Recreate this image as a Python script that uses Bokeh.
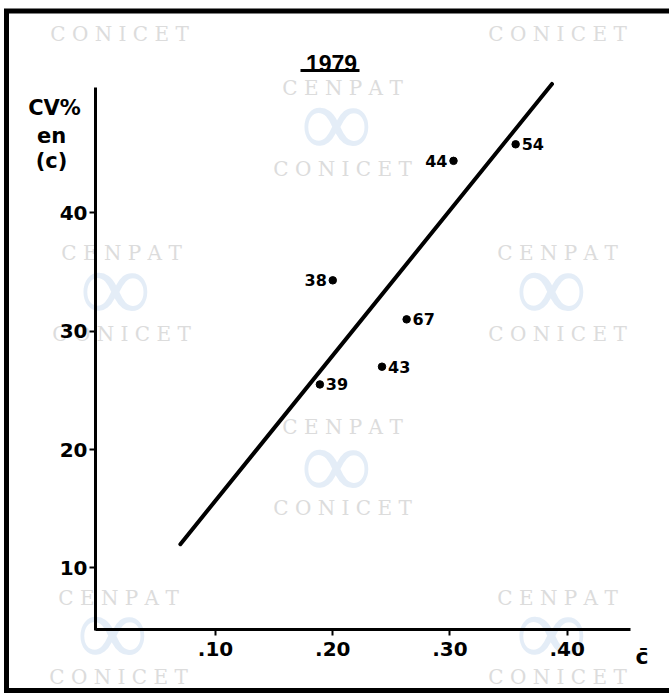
from bokeh.plotting import figure
from bokeh.models import ColumnDataSource, FixedTicker, Range1d
from bokeh.core.properties import value
from bokeh.embed import file_html
from bokeh.resources import INLINE

# ---------------- data ----------------
title_text = "1979"
point_labels = ["38", "67", "43", "39", "44", "54"]
c_mean = [0.200, 0.263, 0.242, 0.189, 0.303, 0.356]
cv_pct = [34.3, 31.0, 27.0, 25.5, 44.4, 45.8]
label_side = ["left", "right", "right", "right", "left", "right"]
fit_x = [0.070, 0.387]
fit_y = [12.0, 50.9]
x_ticks = [0.10, 0.20, 0.30, 0.40]
x_tick_labels = [".10", ".20", ".30", ".40"]
y_ticks = [10, 20, 30, 40]
y_tick_labels = ["10", "20", "30", "40"]
y_label_lines = ["CV%", "en", "(c)"]
x_label = "c\u0304"
watermark_words = ["CONICET", "CONICET",
                   "CENPAT", "CONICET",
                   "CENPAT", "CONICET", "CENPAT", "CONICET",
                   "CENPAT", "CONICET",
                   "CENPAT", "CONICET", "CENPAT", "CONICET"]

# ---------------- layout (page pixels -> data) ----------------
X0, XS = 97.8, 1172.3      # page x of c=0, px per unit c
Y0, YS = 685.6, 11.83      # page y of CV=0, px per unit CV
def dx(px): return (px - X0) / XS
def dy(py): return (Y0 - py) / YS

W, H = 669, 693

p = figure(width=W, height=H, output_backend="svg", toolbar_location=None,
           x_range=Range1d(dx(0), dx(W)),
           y_range=Range1d(dy(H), dy(0)),
           min_border=0)
p.grid.visible = False
p.background_fill_color = "white"
p.border_fill_color = "white"
p.outline_line_color = None

# ---------------- watermark ----------------
wm_pos = [(119, 33.5), (557, 33.5),
          (342, 87.5), (342, 168),
          (121, 252.5), (121, 333.5), (557, 252.5), (557, 333.5),
          (342, 426.5), (342, 507.5),
          (118, 597.5), (118, 676.5), (557, 597.5), (557, 676.5)]
p.text(x=[dx(a) for a, b in wm_pos], y=[dy(b) for a, b in wm_pos],
       text=[" ".join(w) for w in watermark_words],
       text_font=value("DejaVu Serif"), text_font_size="20px",
       text_color="#dcdcdc", text_align="center", text_baseline="middle",
       level="underlay")
logo_pos = [(342, 125), (121, 290), (557, 290), (342, 467), (118, 634), (557, 634)]
p.text(x=[dx(a) for a, b in logo_pos], y=[dy(b) + 0.3 for a, b in logo_pos],
       text=["\u221e"] * len(logo_pos),
       text_font=value("DejaVu Sans"), text_font_size="100px",
       text_color="#e4edf7", text_align="center", text_baseline="middle",
       level="underlay")

# ---------------- scanned frame (left, top, bottom sides) ----------------
p.line([dx(W + 5), dx(6), dx(6), dx(W + 5)],
       [dy(10.5), dy(10.5), dy(690), dy(690)],
       line_width=5, line_color="black", line_join="miter")

# ---------------- axes ----------------
for ax in p.axis:
    ax.axis_line_width = 3
    ax.axis_line_color = "black"
    ax.major_tick_line_width = 2
    ax.major_tick_line_color = "black"
    ax.major_tick_in = 0
    ax.major_tick_out = 6
    ax.minor_tick_line_color = None
    ax.major_label_text_font = "DejaVu Sans"
    ax.major_label_text_font_style = "bold"
    ax.major_label_text_font_size = "20px"
    ax.major_label_text_color = "black"

p.xaxis.fixed_location = dy(629)
p.xaxis.bounds = (dx(94.5), dx(630))
p.xaxis.ticker = FixedTicker(ticks=x_ticks)
p.xaxis.major_label_overrides = dict(zip(x_ticks, x_tick_labels))
p.xaxis.major_label_standoff = 6

p.yaxis.fixed_location = dx(95)
p.yaxis.bounds = (dy(630), dy(87))
p.yaxis.ticker = FixedTicker(ticks=y_ticks)
p.yaxis.major_label_overrides = dict(zip(y_ticks, y_tick_labels))
p.yaxis.major_label_standoff = 2

# ---------------- marks ----------------
p.line(fit_x, fit_y, line_width=4, line_color="black", line_cap="round")
p.scatter(c_mean, cv_pct, size=7.5, color="black")

right_src = ColumnDataSource(dict(
    x=[c for c, s in zip(c_mean, label_side) if s == "right"],
    y=[v for v, s in zip(cv_pct, label_side) if s == "right"],
    t=[l for l, s in zip(point_labels, label_side) if s == "right"]))
left_src = ColumnDataSource(dict(
    x=[c for c, s in zip(c_mean, label_side) if s == "left"],
    y=[v for v, s in zip(cv_pct, label_side) if s == "left"],
    t=[l for l, s in zip(point_labels, label_side) if s == "left"]))
lab_kw = dict(text="t", text_font=value("DejaVu Sans"), text_font_style="bold",
              text_font_size="16px", text_color="black", text_baseline="middle")
p.text(x="x", y="y", source=right_src, x_offset=6, text_align="left", **lab_kw)
p.text(x="x", y="y", source=left_src, x_offset=-6, text_align="right", **lab_kw)

# ---------------- titles / axis labels ----------------
p.text(x=[dx(331)], y=[dy(63.3)], text=[title_text],
       text_font=value("Liberation Sans"), text_font_style="bold",
       text_font_size="23px", text_color="black",
       text_align="center", text_baseline="alphabetic")
p.line([dx(300), dx(359)], [dy(70), dy(70)], line_width=3, line_color="black")

p.text(x=[dx(54), dx(51), dx(51)], y=[dy(107), dy(135), dy(160)],
       text=y_label_lines,
       text_font=value("DejaVu Sans"), text_font_style="bold",
       text_font_size="21px", text_color="black",
       text_align="center", text_baseline="alphabetic")

p.text(x=[dx(641.5)], y=[dy(656)], text=[x_label],
       text_font=value("DejaVu Sans"), text_font_style="bold",
       text_font_size="22px", text_color="black",
       text_align="center", text_baseline="alphabetic")

open("out.html", "w").write(file_html(p, INLINE))
